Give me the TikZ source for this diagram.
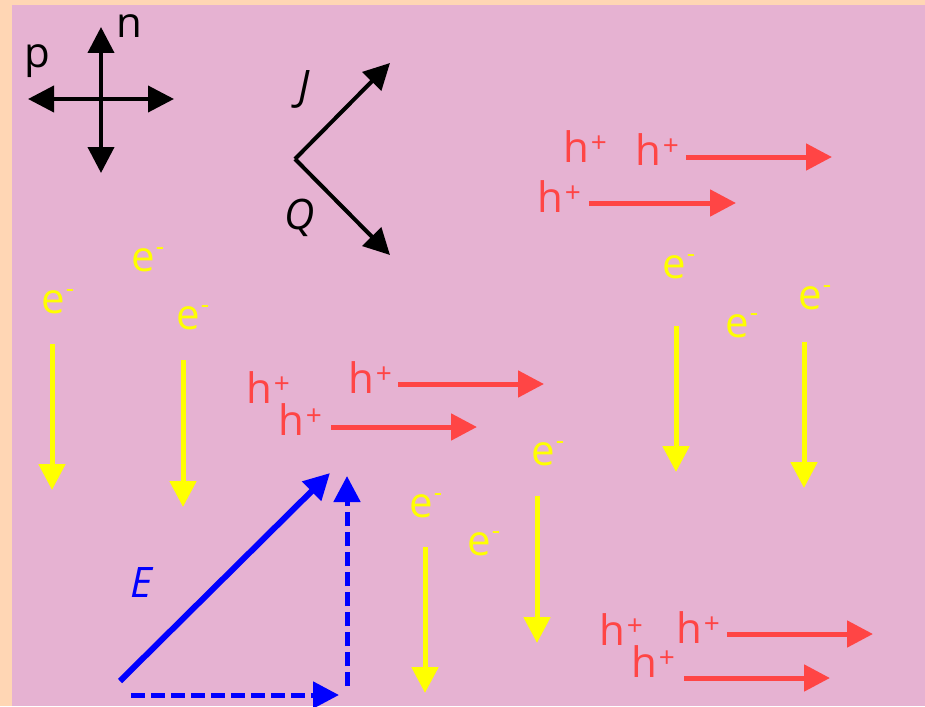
\documentclass[tikz,border=0pt]{standalone}
\usepackage{fontspec}
\setmainfont{Open Sans}
\usetikzlibrary{arrows.meta}
\definecolor{bgpink}{HTML}{E6B2D2}
\definecolor{peach}{HTML}{FFD6B4}
\definecolor{hred}{HTML}{FF4545}
\definecolor{eyel}{HTML}{FFFF00}
\definecolor{eblue}{HTML}{0000FF}
\newcommand{\holelbl}{h\kern2pt\raisebox{10pt}{\fontsize{28}{28}\selectfont +}}
\newcommand{\eleclbl}{e\kern1pt\raisebox{16pt}{\fontsize{26}{26}\selectfont -}}
\tikzset{
  lbl/.style={inner sep=0pt, anchor=base west, font=\fontsize{42}{42}\selectfont},
  hole/.style={lbl, text=hred},
  elec/.style={lbl, text=eyel},
  tip/.style={-{Triangle[width=26pt,length=26pt]}},
  harrow/.style={draw=hred, line width=5pt, tip},
  earrow/.style={draw=eyel, line width=5pt, tip},
  karrow/.style={draw=black, line width=4pt, tip},
  barrow/.style={draw=eblue, line width=5pt, tip},
  bdash/.style={barrow, dash pattern=on 14pt off 6pt},
}
\begin{document}
\begin{tikzpicture}[x=1pt,y=-1pt]
\useasboundingbox (0,0) rectangle (925,706);
\fill[peach] (0,0) rectangle (925,706);
\fill[bgpink] (12,5) rectangle (925,706);

% compass cross
\coordinate (cl) at (28,99); \coordinate (cr) at (174,99);
\coordinate (ct) at (101,27); \coordinate (cb) at (101,173);
\draw[karrow, {Triangle[width=26pt,length=26pt]}-{Triangle[width=26pt,length=26pt]}] (cl) -- (cr);
\draw[karrow, {Triangle[width=26pt,length=26pt]}-{Triangle[width=26pt,length=26pt]}] (cb) -- (ct);
\node[lbl] (lp) at (24,68) {p};
\node[lbl] (ln) at (116,38) {n};

% J / Q
\coordinate (v) at (295,159);
\coordinate (jt) at (390,63);
\coordinate (qt) at (390,255);
\draw[karrow] (v) -- (jt);
\draw[karrow] (v) -- (qt);
\node[lbl, font=\fontsize{42}{42}\selectfont\itshape] (lJ) at (298,100) {J};
\node[lbl, font=\fontsize{42}{42}\selectfont\itshape] (lQ) at (284,229) {Q};

% holes top right
\node[hole] (h1) at (563,162) {\holelbl};
\node[hole] (h2) at (635,165) {\holelbl};
\node[hole] (h3) at (537,212) {\holelbl};
\coordinate (a1s) at (686,157); \coordinate (a1e) at (832,157);
\coordinate (a2s) at (589,203); \coordinate (a2e) at (736,203);
\draw[harrow] (a1s) -- (a1e);
\draw[harrow] (a2s) -- (a2e);

% holes middle
\node[hole] (h4) at (246,403) {\holelbl};
\node[hole] (h5) at (348,393) {\holelbl};
\node[hole] (h6) at (278,435) {\holelbl};
\coordinate (a3s) at (398,384); \coordinate (a3e) at (544,384);
\coordinate (a4s) at (331,427); \coordinate (a4e) at (477,427);
\draw[harrow] (a3s) -- (a3e);
\draw[harrow] (a4s) -- (a4e);

% holes bottom right
\node[hole] (h7) at (599,645) {\holelbl};
\node[hole] (h8) at (676,643) {\holelbl};
\node[hole] (h9) at (631,677) {\holelbl};
\coordinate (a5s) at (727,634); \coordinate (a5e) at (873,634);
\coordinate (a6s) at (684,678); \coordinate (a6e) at (830,678);
\draw[harrow] (a5s) -- (a5e);
\draw[harrow] (a6s) -- (a6e);

% electrons left
\node[elec] (e1) at (41,313) {\eleclbl};
\node[elec] (e2) at (131,271) {\eleclbl};
\node[elec] (e3) at (176,329) {\eleclbl};
\coordinate (b1s) at (52,344); \coordinate (b1e) at (52,490);
\coordinate (b2s) at (183,360); \coordinate (b2e) at (183,507);
\draw[earrow] (b1s) -- (b1e);
\draw[earrow] (b2s) -- (b2e);

% electrons middle
\node[elec] (e4) at (409,517) {\eleclbl};
\node[elec] (e5) at (467,555) {\eleclbl};
\node[elec] (e6) at (531,465) {\eleclbl};
\coordinate (b3s) at (425,547); \coordinate (b3e) at (425,693);
\coordinate (b4s) at (537,496); \coordinate (b4e) at (537,643);
\draw[earrow] (b3s) -- (b3e);
\draw[earrow] (b4s) -- (b4e);

% electrons right
\node[elec] (e7) at (662,278) {\eleclbl};
\node[elec] (e8) at (725,337) {\eleclbl};
\node[elec] (e9) at (798,309) {\eleclbl};
\coordinate (b5s) at (676,326); \coordinate (b5e) at (676,472);
\coordinate (b6s) at (804,342); \coordinate (b6e) at (804,488);
\draw[earrow] (b5s) -- (b5e);
\draw[earrow] (b6s) -- (b6e);

% field E
\coordinate (eo) at (120,681);
\coordinate (et) at (330,473);
\coordinate (hx0) at (131,695); \coordinate (hx1) at (339,695);
\coordinate (vy0) at (347,686); \coordinate (vy1) at (347,476);
\draw[barrow, line width=6pt] (eo) -- (et);
\draw[bdash] (hx0) -- (hx1);
\draw[bdash] (vy0) -- (vy1);
\node[lbl, text=eblue, font=\fontsize{42}{42}\selectfont\itshape] (lE) at (130,597) {E};
\end{tikzpicture}
\end{document}
